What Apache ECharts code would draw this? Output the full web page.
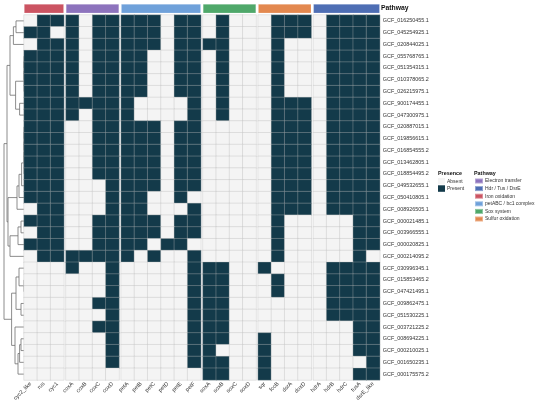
<!DOCTYPE html>
<html>
<head>
<meta charset="utf-8">
<script src="https://cdn.jsdelivr.net/npm/echarts@6/dist/echarts.min.js"></script>
<style>
  html, body { margin: 0; padding: 0; background: #fff; }
  #chart { width: 550px; height: 407px; }
</style>
</head>
<body>
<div id="chart"></div>
<script>
// columns, grouped by pathway
const genes = [
  'cyc2_like', 'rus', 'cyc1',
  'coxA', 'coxB', 'coxC', 'coxD',
  'petA', 'petB', 'petC', 'petD', 'petE', 'petF',
  'soxA', 'soxB', 'soxC', 'soxD',
  'sqr', 'fccB', 'dsrA', 'doxD',
  'hdrA', 'hdrB', 'hdrC', 'tusA', 'dsrE_like',
];
const pathways = ['Iron oxidation', 'Electron transfer', 'petABC / bc1 complex', 'Sox system', 'Sulfur oxidation', 'Hdr / Tus / DsrE'];
const pathwaySizes = [3, 4, 6, 4, 4, 5];
const pathwayColors = ['#CB5462', '#8D73BD', '#6FA1DA', '#4FA86A', '#E3884F', '#4E6EB4'];
const legendOrder = ['Electron transfer', 'Hdr / Tus / DsrE', 'Iron oxidation', 'petABC / bc1 complex', 'Sox system', 'Sulfur oxidation'];

const genomes = [
  'GCF_016250455.1', 'GCF_045254925.1', 'GCF_020844025.1', 'GCF_055768765.1', 'GCF_051354315.1',
  'GCF_010378065.2', 'GCF_026215975.1', 'GCF_900174455.1', 'GCF_047300975.1', 'GCF_020887015.1',
  'GCF_019856615.1', 'GCF_016854555.2', 'GCF_013462805.1', 'GCF_018854495.2', 'GCF_049532655.1',
  'GCF_050410805.1', 'GCF_008926505.1', 'GCF_000021485.1', 'GCF_003966555.1', 'GCF_000020825.1',
  'GCF_000214095.2', 'GCF_030996345.1', 'GCF_015853465.2', 'GCF_047421495.1', 'GCF_009862475.1',
  'GCF_051530225.1', 'GCF_003721225.2', 'GCF_008694225.1', 'GCF_000210025.1', 'GCF_001650235.1',
  'GCF_000175575.2',
];

// one string per genome, groups separated by spaces (1 = present)
const presence = [
  '011 1011 111011 0100 0111 01111',
  '110 1011 111011 0100 0111 01111',
  '011 1011 111011 1100 0100 01111',
  '111 1011 110011 0100 0100 01111',
  '111 1011 110011 0100 0100 01111',
  '111 1011 110011 0100 0100 01111',
  '111 1011 110011 0100 0100 01111',
  '111 1111 100001 0100 0111 01111',
  '111 1011 100001 0100 0111 01111',
  '111 0011 111011 0000 0111 01111',
  '111 0011 111011 0000 0111 01111',
  '111 0011 111011 0000 0111 01111',
  '111 0011 111011 0000 0111 01111',
  '111 0011 111011 0000 0111 01111',
  '111 0001 111011 0000 0111 01111',
  '111 0001 110010 0000 0111 01111',
  '011 0001 110001 0000 0111 01111',
  '111 0011 111011 0000 0100 00011',
  '011 0011 111011 0000 0100 00011',
  '111 0011 110110 0000 0100 00011',
  '011 1111 101001 0000 0100 00010',
  '000 1001 000001 1100 1000 01111',
  '000 0001 000001 1100 0100 01111',
  '000 0001 000001 1100 0100 01111',
  '000 0011 000001 1100 0000 01111',
  '000 0001 000001 1100 0000 01111',
  '000 0011 000001 1100 0000 00011',
  '000 0001 000001 1100 1000 00011',
  '000 0001 000001 1000 1000 00011',
  '000 0001 000001 1100 1000 00001',
  '000 0000 000000 1100 1000 00011',
];

// row dendrogram, hclust style: negative = leaf (row number), positive = earlier merge
const merges = [
  [-1, -2, 0.40], [1, -3, 0.53], [-4, -5, 0], [3, -6, 0], [4, -7, 0],
  [-8, -9, 0.22], [5, 6, 0.42], [2, 7, 0.70], [-10, -11, 0], [9, -12, 0],
  [10, -13, 0], [11, -14, 0], [12, -15, 0.12], [13, -16, 0.25], [14, -17, 0.35],
  [-18, -19, 0.15], [16, -20, 0.30], [17, -21, 0.70], [15, 18, 0.80], [8, 19, 0.85],
  [-23, -24, 0], [-22, 21, 0.25], [-25, -26, 0.15], [22, 23, 0.40], [-28, -29, 0.15],
  [25, -30, 0.22], [26, -31, 0.30], [-27, 27, 0.45], [24, 28, 0.62], [20, 29, 1.0],
];

const FONT = 'Liberation Sans, Arial, sans-serif';
const PRESENT = '#133A4A';
const ABSENT = '#F4F4F4';
const cellW = 13.3;
const groupGap = 2;
const heatLeft = 24;
const heatTop = 15;
const heatHeight = 365;

const chart = echarts.init(document.getElementById('chart'));

const grid = [];
const xAxis = [];
const yAxis = [];
const series = [];

// dendrogram
grid.push({ left: 0, top: heatTop, width: heatLeft, height: heatHeight });
xAxis.push({ type: 'value', gridIndex: 0, min: 0, max: 1.2, inverse: true, show: false });
yAxis.push({ type: 'value', gridIndex: 0, min: 0, max: genomes.length, inverse: true, show: false });

const nodeH = [];
const nodeY = [];
const branchLines = [];
const nodePos = (ref) => (ref < 0 ? [0, -ref - 0.5] : [nodeH[ref - 1], nodeY[ref - 1]]);
merges.forEach(([a, b, h], k) => {
  const pa = nodePos(a);
  const pb = nodePos(b);
  nodeH[k] = h;
  nodeY[k] = (pa[1] + pb[1]) / 2;
  branchLines.push({ coords: [pa, [h, pa[1]], [h, pb[1]], pb] });
});
series.push({
  type: 'lines',
  coordinateSystem: 'cartesian2d',
  xAxisIndex: 0,
  yAxisIndex: 0,
  polyline: true,
  silent: true,
  lineStyle: { color: '#707070', width: 0.8, opacity: 1 },
  data: branchLines,
});

// heatmap blocks + pathway bars, one pair of grids per pathway
let colStart = 0;
const heatSeries = [];
pathways.forEach((name, g) => {
  const size = pathwaySizes[g];
  const left = heatLeft + colStart * cellW + g * groupGap;
  const width = size * cellW;
  const cols = genes.slice(colStart, colStart + size);
  const last = g === pathways.length - 1;

  const hi = grid.length;
  grid.push({ left, top: heatTop, width, height: heatHeight });
  xAxis.push({
    type: 'category',
    gridIndex: hi,
    data: cols,
    axisLine: { show: false },
    axisTick: { show: false },
    splitLine: { show: false },
    axisLabel: {
      interval: 0,
      rotate: 45,
      margin: 3,
      fontSize: 5.6,
      fontFamily: FONT,
      color: '#333',
    },
  });
  yAxis.push({
    type: 'category',
    gridIndex: hi,
    data: genomes,
    inverse: true,
    position: 'right',
    axisLine: { show: false },
    axisTick: { show: false },
    splitLine: { show: false },
    axisLabel: {
      show: last,
      interval: 0,
      margin: 3,
      fontSize: 5.4,
      fontFamily: FONT,
      color: '#333',
    },
  });
  const data = [];
  presence.forEach((row, r) => {
    const bits = row.replace(/ /g, '');
    for (let c = 0; c < size; c++) {
      data.push([c, r, Number(bits[colStart + c])]);
    }
  });
  heatSeries.push(series.length);
  series.push({
    type: 'heatmap',
    xAxisIndex: hi,
    yAxisIndex: hi,
    data,
    silent: true,
    itemStyle: { borderColor: 'rgba(185,185,185,0.5)', borderWidth: 0.7 },
    emphasis: { disabled: true },
  });

  const bi = grid.length;
  grid.push({ left, top: 4, width, height: 9.3 });
  xAxis.push({ type: 'category', gridIndex: bi, data: [name], show: false });
  yAxis.push({ type: 'value', gridIndex: bi, min: 0, max: 1, show: false });
  series.push({
    type: 'bar',
    name,
    xAxisIndex: bi,
    yAxisIndex: bi,
    data: [1],
    barWidth: '100%',
    silent: true,
    itemStyle: { color: pathwayColors[g], borderColor: 'rgba(255,255,255,0.35)', borderWidth: 0.6 },
  });

  colStart += size;
});

const titleText = { fontFamily: FONT, fontWeight: 'bold', color: '#111' };

chart.setOption({
  animation: false,
  backgroundColor: '#fff',
  title: [
    { text: 'Pathway', left: 381, top: 4.6, padding: 0, textStyle: { ...titleText, fontSize: 6.8 } },
    { text: 'Presence', left: 438, top: 171.2, padding: 0, textStyle: { ...titleText, fontSize: 5.4 } },
    { text: 'Pathway', left: 474, top: 171.2, padding: 0, textStyle: { ...titleText, fontSize: 5.4 } },
  ],
  grid,
  xAxis,
  yAxis,
  visualMap: {
    type: 'piecewise',
    seriesIndex: heatSeries,
    dimension: 2,
    orient: 'vertical',
    inverse: true,
    align: 'left',
    selectedMode: false,
    left: 438,
    top: 178,
    padding: 0,
    itemWidth: 7,
    itemHeight: 6.5,
    itemGap: 0.8,
    textGap: 2,
    itemSymbol: 'rect',
    textStyle: { fontSize: 5, fontFamily: FONT, color: '#333' },
    pieces: [
      { value: 0, label: 'Absent', color: ABSENT },
      { value: 1, label: 'Present', color: PRESENT },
    ],
  },
  legend: {
    data: legendOrder,
    orient: 'vertical',
    left: 474,
    top: 177.5,
    padding: 0,
    icon: 'rect',
    itemWidth: 8,
    itemHeight: 5,
    itemGap: 0.6,
    selectedMode: false,
    textStyle: { fontSize: 5, fontFamily: FONT, color: '#333', padding: [0, 0, 0, -3] },
  },
  series,
});
</script>
</body>
</html>
